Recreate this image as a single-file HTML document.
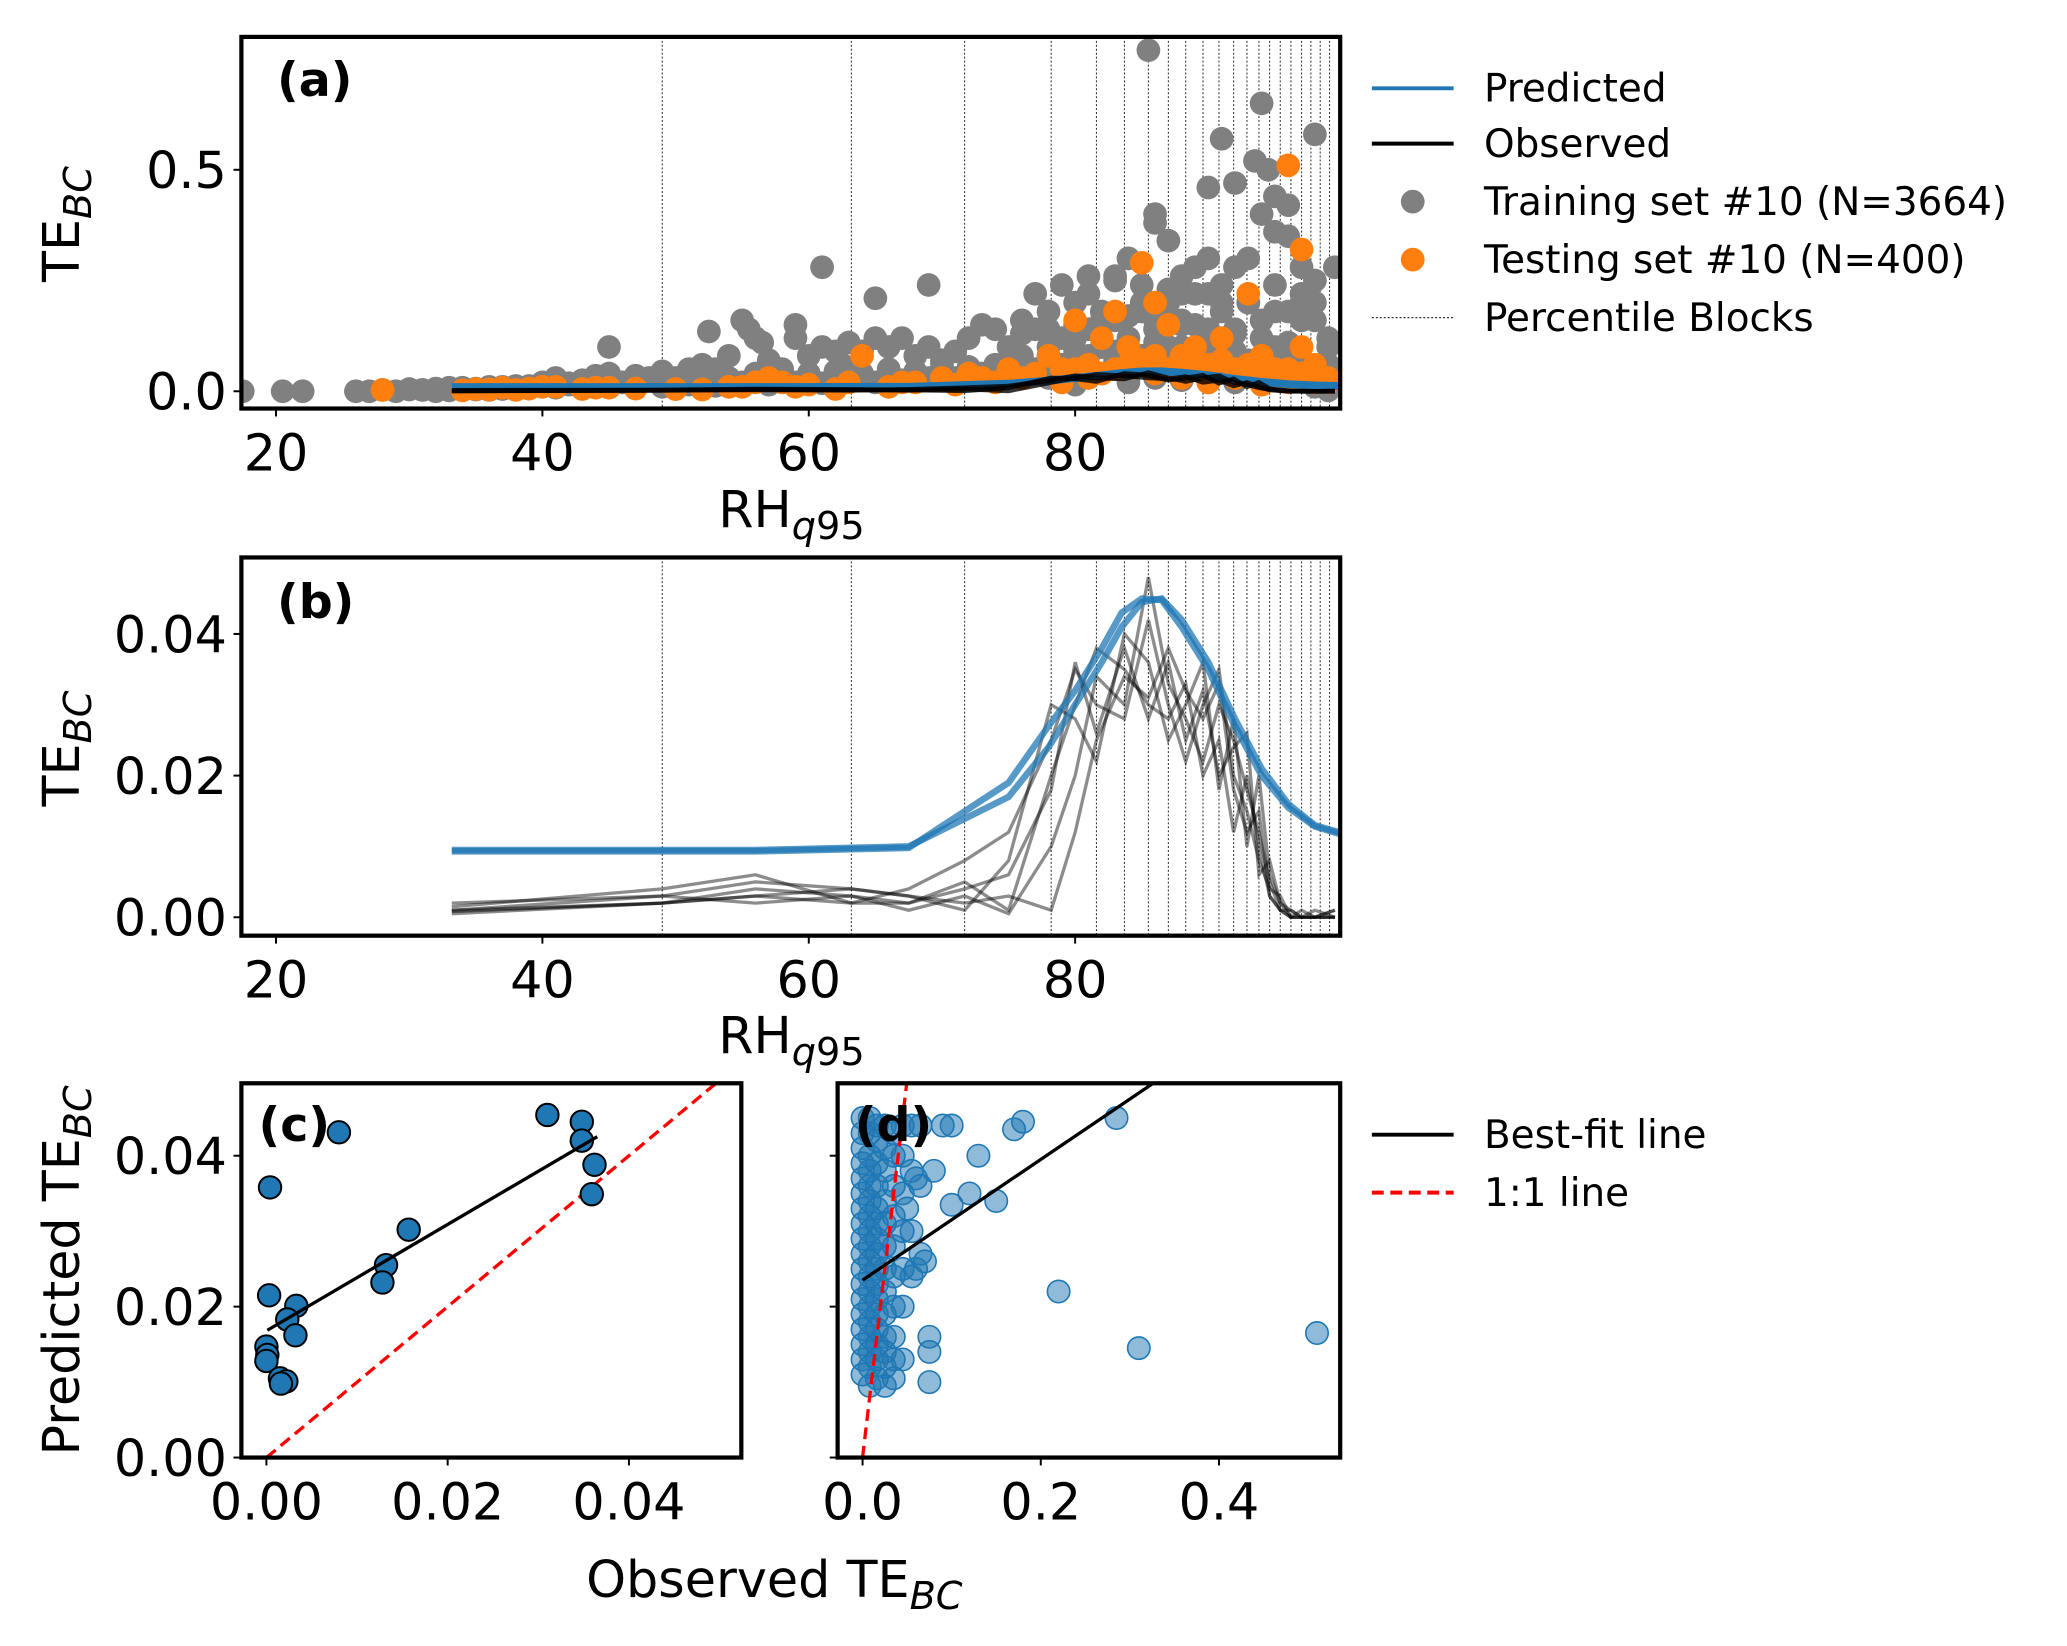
<!DOCTYPE html>
<html><head><meta charset="utf-8"><style>
html,body{margin:0;padding:0;background:#fff}
svg{display:block;font-family:"DejaVu Sans","Liberation Sans",sans-serif}
</style></head><body>
<svg id="fig" width="2067" height="1646" viewBox="0 0 1567 1249" preserveAspectRatio="none" xmlns="http://www.w3.org/2000/svg">
<rect width="1567" height="1249" fill="#fff"/>
<g id="root"></g>
</svg>
<script>
// ---------- DATA ----------
const blockEdges = [49.0,63.2,71.7,78.2,81.6,83.7,85.5,87.0,88.3,89.6,90.8,91.9,92.9,93.8,94.6,95.4,96.2,97.0,97.7,98.4,99.1];
const trainX = [17.5,20.5,22,26,27,28,29,30,31,32,33,34,35,36,37,38,39,40,41,42,43,44,45,45,46,47,48,49,50,51,52,52.5,53,54,55,55.5,56,56.5,57,58,59,59,60,61,61,62,62.5,63,64,65,65,66,67,68,69,69,70,71,72,73,74,75,76,77,78,79,80,81,82,83,84,85,85.5,86,86,87,88,88,89,90,90,91,91,92,92,93,93.5,94,94,94.5,95,95,96,96,97,97,98,98,99.5,99,76,78,80,81,82,83,84,85,86,87,88,89,90,91,92,93,94,95,96,97,98,99,80,83,86,89,92,95,98,70,73,66,60,55,50,
 30,32,34,36,38,40,42,44,46,48,50,52,54,56,58,60,62,64,66,68,70,72,74,76,78,80,82,84,86,88,90,92,94,96,98,99,
 31,33,35,37,39,41,43,45,47,49,51,53,55,57,59,61,63,65,67,69,71,73,75,77,79,81,83,85,87,89,91,93,95,97,99,
 75,77,79,81,83,85,87,89,91,93,95,97,99,76,78,80,82,84,86,88,90,92,94,96,98,
 77,79,81,83,85,87,89,91,93,95,97,99,78,82,86,90,94,98,80,84,88,92,96];
const trainY = [0,0,0,0,0,0.003,0,0.005,0.003,0,0.008,0.004,0.006,0.003,0.01,0.005,0.012,0.02,0.03,0.015,0.025,0.035,0.1,0.04,0.02,0.035,0.03,0.045,0.02,0.05,0.06,0.135,0.05,0.08,0.16,0.14,0.12,0.11,0.07,0.05,0.15,0.12,0.08,0.28,0.1,0.09,0.06,0.11,0.09,0.21,0.12,0.1,0.12,0.08,0.24,0.1,0.07,0.09,0.12,0.15,0.14,0.1,0.16,0.14,0.18,0.12,0.2,0.22,0.18,0.26,0.3,0.2,0.77,0.4,0.38,0.34,0.26,0.22,0.28,0.46,0.3,0.57,0.2,0.47,0.28,0.3,0.52,0.65,0.4,0.5,0.44,0.36,0.42,0.35,0.28,0.2,0.58,0.25,0.28,0.1,0.08,0.1,0.12,0.14,0.1,0.16,0.12,0.18,0.14,0.2,0.16,0.15,0.22,0.18,0.14,0.2,0.16,0.24,0.18,0.22,0.16,0.06,0.06,0.07,0.08,0.08,0.09,0.1,0.05,0.06,0.04,0.04,0.03,0.02,
 0.005,0.004,0.006,0.008,0.01,0.012,0.015,0.018,0.02,0.02,0.025,0.03,0.035,0.03,0.04,0.035,0.04,0.045,0.04,0.05,0.045,0.05,0.055,0.06,0.07,0.08,0.09,0.1,0.1,0.11,0.1,0.09,0.08,0.07,0.06,0.05,
 0.002,0.003,0.002,0.004,0.005,0.006,0.008,0.01,0.01,0.012,0.01,0.015,0.012,0.018,0.015,0.02,0.018,0.022,0.02,0.025,0.03,0.03,0.035,0.04,0.045,0.05,0.05,0.06,0.06,0.06,0.055,0.05,0.04,0.035,0.03,
 0.03,0.04,0.05,0.06,0.08,0.09,0.08,0.1,0.09,0.08,0.07,0.06,0.05,0.12,0.13,0.14,0.15,0.16,0.17,0.16,0.15,0.14,0.13,0.12,0.11,
 0.2,0.22,0.24,0.26,0.25,0.24,0.23,0.22,0.24,0.2,0.18,0.16,0.02,0.03,0.04,0.03,0.02,0.015,0.01,0.015,0.02,0.025,0.02];
const testX = [28,35,37,40,43,45,50,54,58,60,64,67,70,72,75,78,80,82,83,84,85,86,87,88,89,90,91,92,93,94,95,96,97,97,98,99,76,79,81,86,
 34,36,38,39,41,44,47,52,55,56,57,59,62,63,66,68,71,73,74,77,79,80,82,84,85,87,88,89,90,91,92,93,94,95,96,97,98,99,81,83,86,88,90,92,94,96];
const testY = [0.003,0.005,0.008,0.01,0.005,0.008,0.005,0.01,0.02,0.015,0.08,0.02,0.03,0.04,0.05,0.08,0.16,0.12,0.18,0.1,0.29,0.08,0.15,0.05,0.1,0.06,0.12,0.04,0.22,0.08,0.05,0.51,0.32,0.1,0.06,0.03,0.03,0.05,0.06,0.2,
 0.002,0.004,0.003,0.006,0.01,0.008,0.006,0.004,0.01,0.02,0.03,0.01,0.005,0.02,0.01,0.02,0.015,0.03,0.02,0.04,0.02,0.05,0.04,0.06,0.07,0.05,0.08,0.06,0.04,0.07,0.05,0.06,0.04,0.03,0.05,0.04,0.02,0.02,0.03,0.05,0.04,0.03,0.02,0.03,0.015,0.02];
const predX = [33.2,56,67.5,75,78,80,82,83.5,85,86.5,88,90,92,94,96,98,99.8];
const predA = [0.0095,0.0095,0.0100,0.0170,0.024,0.030,0.036,0.041,0.0445,0.045,0.042,0.036,0.028,0.021,0.016,0.013,0.012];
const predB = [0.0093,0.0093,0.0098,0.0190,0.027,0.032,0.038,0.043,0.0450,0.0448,0.041,0.035,0.027,0.020,0.0155,0.0128,0.0118];
const obsX = [33.2,49,56,63.2,67.5,71.7,75,78.2,80,81.6,83.7,85.5,87,88.3,89.6,90.8,91.9,92.9,93.8,94.6,95.4,96.2,97,98,99.5];
const obs1 = [0.001,0.002,0.004,0.003,0.002,0.005,0.001,0.02,0.03,0.038,0.035,0.03,0.028,0.033,0.02,0.025,0.012,0.02,0.01,0.003,0.001,0.0,0.0,0.0,0.001];
const obs2 = [0.002,0.003,0.005,0.004,0.003,0.001,0.008,0.03,0.028,0.022,0.04,0.036,0.025,0.03,0.036,0.018,0.028,0.01,0.02,0.006,0.002,0.001,0.0,0.0,0.0];
const obs3 = [0.0005,0.002,0.003,0.002,0.004,0.008,0.012,0.025,0.035,0.03,0.028,0.042,0.03,0.022,0.03,0.035,0.02,0.015,0.008,0.004,0.003,0.0,0.001,0.0,0.0];
const obs4 = [0.001,0.003,0.002,0.003,0.001,0.003,0.0005,0.01,0.02,0.034,0.03,0.048,0.033,0.028,0.022,0.03,0.025,0.018,0.012,0.005,0.001,0.001,0.0,0.001,0.0];
const obs5 = [0.0015,0.004,0.006,0.002,0.002,0.004,0.006,0.018,0.036,0.026,0.038,0.028,0.036,0.025,0.032,0.02,0.024,0.026,0.006,0.008,0.002,0.0,0.0,0.0,0.0];
const obs6 = [0.0008,0.002,0.003,0.004,0.003,0.002,0.003,0.001,0.012,0.025,0.034,0.031,0.038,0.032,0.028,0.033,0.018,0.012,0.015,0.003,0.001,0.0,0.0,0.0,0.001];
const cObsX = [0.031,0.0348,0.0348,0.0362,0.0359,0.0157,0.0132,0.0128,0.008,0.0004,0.0003,0.0033,0.0023,0.0032,0.0,0.0001,0.0,0.0015,0.0022,0.0016];
const cPredY = [0.0454,0.0445,0.042,0.0388,0.0349,0.0302,0.0255,0.0232,0.0431,0.0358,0.0215,0.0201,0.0183,0.0162,0.0147,0.0136,0.0128,0.0105,0.0101,0.0098];
const cFit = [0.0168,0.705]; // intercept, slope
const dObsX = [0.22,0.31,0.51,0.285,0.18,0.17,0.15,0.12,0.13,0.1,0.075,0.075,0.075,0.09,0.1,0.08,0.06,
 0.0,0.0,0.0,0.0,0.0,0.0,0.0,0.0,0.0,0.0,0.0,0.0,0.0,0.0,0.0,0.0,0.0,0.0,
 0.008,0.008,0.008,0.008,0.008,0.008,0.008,0.008,0.008,0.008,0.008,0.008,0.008,0.008,0.008,0.008,0.008,0.008,
 0.016,0.016,0.016,0.016,0.016,0.016,0.016,0.016,0.016,0.016,0.016,0.016,0.016,0.016,0.016,0.016,
 0.025,0.025,0.025,0.025,0.025,0.025,0.025,0.025,0.025,0.025,0.025,0.025,0.025,
 0.035,0.035,0.035,0.035,0.035,0.035,0.035,0.035,0.035,0.035,
 0.045,0.045,0.045,0.045,0.045,0.045,0.045,0.055,0.055,0.055,0.055,0.065,0.065,0.065,0.07,0.05,0.06];
const dPredY = [0.022,0.0145,0.0165,0.045,0.0445,0.0435,0.034,0.035,0.04,0.0335,0.014,0.016,0.01,0.044,0.044,0.038,0.037,
 0.045,0.043,0.041,0.039,0.037,0.035,0.033,0.031,0.029,0.027,0.025,0.023,0.021,0.019,0.017,0.015,0.013,0.011,
 0.045,0.043,0.04,0.038,0.036,0.034,0.032,0.03,0.028,0.026,0.024,0.022,0.02,0.018,0.016,0.014,0.012,0.0095,
 0.044,0.042,0.039,0.036,0.033,0.031,0.029,0.027,0.025,0.023,0.021,0.019,0.017,0.015,0.013,0.0105,
 0.044,0.041,0.038,0.034,0.031,0.028,0.025,0.022,0.019,0.016,0.014,0.012,0.0095,
 0.043,0.04,0.036,0.032,0.028,0.024,0.02,0.016,0.013,0.0105,
 0.044,0.04,0.035,0.03,0.025,0.02,0.013,0.044,0.038,0.03,0.024,0.044,0.036,0.027,0.026,0.033,0.025];
const dFit = [0.0235,0.080];
const xTicksAB = [20,40,60,80];
const yTicksA = [0.0,0.5];
const yTicksB = [0.00,0.02,0.04];
const xTicksC = [0.00,0.02,0.04];
const xTicksD = [0.0,0.2,0.4];
const yTicksCD = [0.00,0.02,0.04];

// ---------- HELPERS ----------
const NS="http://www.w3.org/2000/svg";
const root=document.getElementById('root');
const TF=38.5;
function el(tag,attrs,parent){const e=document.createElementNS(NS,tag);for(const k in attrs)e.setAttribute(k,attrs[k]);(parent||root).appendChild(e);return e;}
function axis(L,R,T,B,x0,x1,y0,y1){return {L,R,T,B,sx:v=>L+(v-x0)/(x1-x0)*(R-L),sy:v=>B-(v-y0)/(y1-y0)*(B-T)};}
function clip(id,a){const c=el('clipPath',{id:id});el('rect',{x:a.L,y:a.T,width:a.R-a.L,height:a.B-a.T},c);return 'url(#'+id+')';}
function path(a,xs,ys){return xs.map((x,i)=>(i?'L':'M')+a.sx(x).toFixed(1)+','+a.sy(ys[i]).toFixed(1)).join('');}
function frame(a,name){const r=el('rect',{x:a.L,y:a.T,width:a.R-a.L,height:a.B-a.T,fill:'none',stroke:'#000','stroke-width':3.2});

}
function xticks(a,ticks,fmt,name,labels){ticks.forEach(t=>{const x=a.sx(t);el('line',{x1:x,x2:x,y1:a.B,y2:a.B+6,stroke:'#000','stroke-width':1.5});
if(labels!==false){const tx=el('text',{x:x,y:a.B+47,'font-size':TF,'text-anchor':'middle'});tx.textContent=fmt(t);

}});}
function yticks(a,ticks,fmt,name,labels){ticks.forEach(t=>{const y=a.sy(t);el('line',{x1:a.L-6,x2:a.L,y1:y,y2:y,stroke:'#000','stroke-width':1.5});
if(labels!==false){const tx=el('text',{x:a.L-11,y:y+14,'font-size':TF,'text-anchor':'end'});tx.textContent=fmt(t);

}});}
function blocks(a,cp){blockEdges.forEach(v=>{const x=a.sx(v);const l=el('line',{x1:x,x2:x,y1:a.T,y2:a.B,stroke:'#333','stroke-width':0.8,'stroke-dasharray':'1.5,1.5','clip-path':cp});

});}
function label(x,y,txt,name,bold){const t=el('text',{x:x,y:y,'font-size':36,'font-weight':bold?'bold':'normal'});t.textContent=txt;

return t;}
function teLabel(x,y,prefix,name,rot){const t=el('text',{x:x,y:y,'font-size':TF,'text-anchor':'middle',transform:rot?'rotate(-90 '+x+' '+y+')':''});
t.innerHTML=prefix+'TE<tspan font-style="italic" font-size="29" dy="9">BC</tspan>';

}
function rhLabel(x,y,name){const t=el('text',{x:x,y:y,'font-size':TF,'text-anchor':'middle'});
t.innerHTML='RH<tspan font-style="italic" font-size="29" dy="9">q</tspan><tspan font-size="29">95</tspan>';

}
const BLUE='#1f77b4',ORANGE='#ff7f0e',GRAY='#808080';

// ---------- PANEL A ----------
const A=axis(183,1016,28,310,17.4,99.9,-0.039,0.80);
const cpA=clip('cpA',A);
blocks(A,cpA);
trainX.forEach((x,i)=>{const c=el('circle',{cx:A.sx(x),cy:A.sy(trainY[i]),r:9,fill:GRAY,'clip-path':cpA});

});
testX.forEach((x,i)=>{const c=el('circle',{cx:A.sx(x),cy:A.sy(testY[i]),r:9,fill:ORANGE,'clip-path':cpA});

});
{const p=el('path',{d:path(A,predX,predA),fill:'none',stroke:BLUE,'stroke-width':6});

}
[obs1,obs2,obs3].forEach(s=>{const p=el('path',{d:path(A,obsX,s),fill:'none',stroke:'#000','stroke-width':3.5,'stroke-opacity':0.8});

});
frame(A,'panel-a-axes');
xticks(A,xTicksAB,v=>String(v),'panel-a-x');
yticks(A,yTicksA,v=>v.toFixed(1),'panel-a-y');
label(210,73,'(a)','panel-a-label',true);
teLabel(60,170,'','panel-a-y-title',true);
rhLabel(600,400,'panel-a-x-title');

// ---------- PANEL B ----------
const B=axis(183,1016,423,710,17.4,99.9,-0.0026,0.0508);
const cpB=clip('cpB',B);
blocks(B,cpB);
[obs1,obs2,obs3,obs4,obs5,obs6].forEach(s=>{const p=el('path',{d:path(B,obsX,s),fill:'none',stroke:'#000','stroke-width':2.5,'stroke-opacity':0.45,'clip-path':cpB});

});
[predA,predB].forEach(s=>{const p=el('path',{d:path(B,predX,s),fill:'none',stroke:BLUE,'stroke-width':5,'stroke-opacity':0.75,'clip-path':cpB});

});
frame(B,'panel-b-axes');
xticks(B,xTicksAB,v=>String(v),'panel-b-x');
yticks(B,yTicksB,v=>v.toFixed(2),'panel-b-y');
label(210,469,'(b)','panel-b-label',true);
teLabel(60,568,'','panel-b-y-title',true);
rhLabel(600,799,'panel-b-x-title');

// ---------- PANEL C ----------
const C=axis(183,562,822,1106,-0.00276,0.0524,0,0.0496);
const cpC=clip('cpC',C);
{const p=el('path',{d:path(C,[0,0.06],[0,0.06]),stroke:'red','stroke-width':2.5,'stroke-dasharray':'9,5',fill:'none','clip-path':cpC});

}
label(196,866,'(c)','panel-c-label',true);
cObsX.forEach((x,i)=>{const c=el('circle',{cx:C.sx(x),cy:C.sy(cPredY[i]),r:8.5,fill:BLUE,stroke:'#000','stroke-width':1.5,'clip-path':cpC});

});
{const fx=[0.0001,0.0365];const p=el('path',{d:path(C,fx,fx.map(x=>cFit[0]+cFit[1]*x)),stroke:'#000','stroke-width':2.5,fill:'none'});

}
frame(C,'panel-c-axes');
xticks(C,xTicksC,v=>v.toFixed(2),'panel-c-x');
yticks(C,yTicksCD,v=>v.toFixed(2),'panel-c-y');
teLabel(60,964,'Predicted ','panel-c-y-title',true);

// ---------- PANEL D ----------
const D=axis(635,1016,822,1106,-0.028,0.536,0,0.0496);
const cpD=clip('cpD',D);
dObsX.forEach((x,i)=>{const c=el('circle',{cx:D.sx(x),cy:D.sy(dPredY[i]),r:8.5,fill:BLUE,'fill-opacity':0.5,stroke:BLUE,'stroke-width':1.2,'clip-path':cpD});

});
{const p=el('path',{d:path(D,[0,0.06],[0,0.06]),stroke:'red','stroke-width':2.5,'stroke-dasharray':'9,5',fill:'none','clip-path':cpD});

}
{const fx=[0,0.4];const p=el('path',{d:path(D,fx,fx.map(x=>dFit[0]+dFit[1]*x)),stroke:'#000','stroke-width':2.5,fill:'none','clip-path':cpD});

}
label(648,866,'(d)','panel-d-label',true);
frame(D,'panel-d-axes');
xticks(D,xTicksD,v=>v.toFixed(1),'panel-d-x');
yticks(D,yTicksCD,v=>'','panel-d-y',false);
teLabel(587,1212,'Observed ','shared-x-title',false);

// ---------- LEGENDS ----------
function legRow(y,txt,kind,color,name){const g=el('g',{});


if(kind==='line')el('line',{x1:1040,x2:1102,y1:y,y2:y,stroke:color,'stroke-width':3},g);
if(kind==='dot')el('circle',{cx:1071,cy:y,r:9,fill:color},g);
if(kind==='dotted')el('line',{x1:1040,x2:1102,y1:y,y2:y,stroke:'#333','stroke-width':1,'stroke-dasharray':'1.5,1.5'},g);
if(kind==='dash')el('line',{x1:1040,x2:1102,y1:y,y2:y,stroke:color,'stroke-width':3,'stroke-dasharray':'9,5'},g);
const t=el('text',{x:1125,y:y+10,'font-size':29.5},g);t.textContent=txt;}
legRow(67,'Predicted','line',BLUE,'legend-predicted');
legRow(109,'Observed','line','#000','legend-observed');
legRow(153,'Training set #10 (N=3664)','dot',GRAY,'legend-training');
legRow(197,'Testing set #10 (N=400)','dot',ORANGE,'legend-testing');
legRow(241,'Percentile Blocks','dotted','#333','legend-percentile-blocks');
legRow(861,'Best-fit line','line','#000','legend-best-fit');
legRow(905,'1:1 line','dash','red','legend-one-to-one');
</script>
</body></html>
